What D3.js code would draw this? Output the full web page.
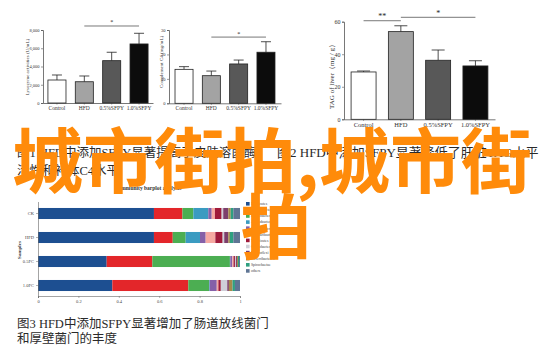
<!DOCTYPE html>
<html><head><meta charset="utf-8">
<script src="https://cdn.jsdelivr.net/npm/d3@7"></script>
<style>body{margin:0;background:#fff}svg{display:block}</style>
</head><body>
<svg id="c" width="550" height="357"></svg>
<script>
// ---------- data ----------
const groups = ["Control", "HFD", "0.5%SFPY", "1.0%SFPY"];
const lysozyme = [2520, 2330, 4640, 6470];
const lysozymeErr = [3070, 2960, 5560, 7640];
const lysozymeTicks = [0, 2000, 4000, 6000, 8000];
const complementC4 = [13.9, 11.3, 16.1, 20.9];
const complementC4Err = [15.0, 13.2, 17.7, 25.2];
const complementTicks = [0, 10, 20, 30];
const liverTAG = [29.1, 53.9, 36.3, 32.8];
const liverTAGErr = [29.7, 57.5, 42.6, 36.0];
const tagTicks = [0, 20, 40, 60];
const barFills = ["#ffffff", "#a3a3a3", "#585858", "#0c0c0c"];

const sig1 = [{from: "HFD", to: "1.0%SFPY", level: 8440, label: "*"}];
const sig2 = [{from: "HFD", to: "1.0%SFPY", level: 27.1, label: "*"}];
const sig3 = [{from: "Control", to: "HFD", level: 60.6, label: "**"},
              {from: "HFD", to: "1.0%SFPY", level: 62.7, label: "*"}];

const samples = ["CK", "HFD", "0.5FC", "1.0FC"];
const phyla = ["Firmicutes", "Bacteroidetes", "Proteobacteria", "Actinobacteria", "Verrucomicrobia",
  "Saccharibacteria", "Tenericutes", "Cyanobacteria", "Chloroflexi", "Deferribacteres", "Spirochaetae", "others"];
const phylaColors = ["#1d4f91", "#e3262a", "#4cae52", "#3a9bc1", "#8560a8", "#f6a9a2",
  "#a01a3b", "#cfcfd8", "#7d3f6c", "#a58a4c", "#2fa080", "#5f7594"];
const abundanceCK = [0.574, 0.141, 0.054, 0.074, 0.017, 0.016, 0.033, 0.008, 0.025, 0.012, 0.013, 0.033];
const abundanceHFD = [0.574, 0.093, 0.064, 0.071, 0.028, 0.048, 0.036, 0.008, 0.020, 0.008, 0.017, 0.033];
const abundance05FC = [0.340, 0.226, 0.384, 0.002, 0.010, 0.006, 0.007, 0.005, 0.005, 0.005, 0.005, 0.005];
const abundance10FC = [0.368, 0.376, 0.103, 0.003, 0.035, 0.008, 0.012, 0.032, 0.008, 0.018, 0.012, 0.025];
const propTicks = [0, 0.2, 0.4, 0.6, 0.8, 1];

const captions = [
  "图1 HFD中添加SFPY显著提高了皮肤溶菌酶",
  "活性和补体C4水平",
  "图2 HFD中添加SFPY显著降低了肝脏TAG水平",
  "图3 HFD中添加SFPY显著增加了肠道放线菌门",
  "和厚壁菌门的丰度"
];
const watermark = ["城市街拍,城市街", "拍"];

// ---------- drawing ----------
const svg = d3.select("#c");
const serif = "'Liberation Serif','DejaVu Serif',serif";

function barChart(o) {
  const g = svg.append("g");
  const x = d3.scaleBand().domain(groups).range(o.xr).paddingInner(o.pi).paddingOuter(o.po);
  const y = d3.scaleLinear().domain([0, o.max]).range(o.yr);
  const yAx = g.append("g").attr("transform", `translate(${o.xr[0]},0)`)
    .call(d3.axisLeft(y).tickValues(o.ticks).tickSize(2).tickPadding(1.5));
  const xAx = g.append("g").attr("transform", `translate(0,${o.yr[0]})`)
    .call(d3.axisBottom(x).tickSize(1.5).tickPadding(1.5).tickSizeOuter(0));
  [yAx, xAx].forEach(a => {
    a.select(".domain").attr("stroke", "#555").attr("stroke-width", 0.8);
    a.selectAll(".tick line").attr("stroke", "#555").attr("stroke-width", 0.6);
    a.selectAll("text").attr("fill", "#333").style("font-family", serif);
  });
  yAx.selectAll("text").style("font-size", o.tickFs + "px");
  xAx.selectAll("text").style("font-size", o.catFs + "px");
  const eb = g.append("g").attr("stroke", "#222").attr("stroke-width", 0.8);
  groups.forEach((k, i) => {
    const cx = x(k) + x.bandwidth() / 2;
    eb.append("line").attr("x1", cx).attr("x2", cx).attr("y1", y(o.vals[i])).attr("y2", y(o.errs[i]));
    eb.append("line").attr("x1", cx - o.cap).attr("x2", cx + o.cap).attr("y1", y(o.errs[i])).attr("y2", y(o.errs[i]));
  });
  g.append("g").selectAll("rect").data(o.vals).join("rect")
    .attr("x", (d, i) => x(groups[i])).attr("width", x.bandwidth())
    .attr("y", d => y(d)).attr("height", d => o.yr[0] - y(d))
    .attr("fill", (d, i) => barFills[i]).attr("stroke", "#222").attr("stroke-width", 0.8);
  o.sig.forEach(s => {
    const x1 = x(s.from) + x.bandwidth() / 2, x2 = x(s.to) + x.bandwidth() / 2;
    g.append("line").attr("x1", x1).attr("x2", x2).attr("y1", y(s.level)).attr("y2", y(s.level))
      .attr("stroke", "#555").attr("stroke-width", 0.8);
    g.append("text").attr("x", (x1 + x2) / 2).attr("y", y(s.level) - 1.5).attr("text-anchor", "middle")
      .style("font-family", serif).style("font-size", o.sigFs + "px").attr("fill", "#222").text(s.label);
  });
  g.append("text").attr("transform", `translate(${o.labX},${o.labY}) rotate(-90)`)
    .attr("text-anchor", "middle").style("font-family", serif).style("font-size", o.labFs + "px")
    .attr("fill", "#333").text(o.label);
}

barChart({vals: lysozyme, errs: lysozymeErr, ticks: lysozymeTicks, max: 8000,
  xr: [43, 153], yr: [103, 30], pi: 0.34, po: 0.18, cap: 5, tickFs: 4.5, catFs: 5.5, sigFs: 6,
  sig: sig1, label: "Lysozyme activities (U/mL)", labX: 29, labY: 67, labFs: 5});
barChart({vals: complementC4, errs: complementC4Err, ticks: complementTicks, max: 30,
  xr: [169, 281], yr: [103.3, 30], pi: 0.34, po: 0.22, cap: 5, tickFs: 4.5, catFs: 5.5, sigFs: 6,
  sig: sig2, label: "Complement C4 (mg/mL)", labX: 163, labY: 62, labFs: 5});
barChart({vals: liverTAG, errs: liverTAGErr, ticks: tagTicks, max: 60,
  xr: [344, 495], yr: [119.3, 21.7], pi: 0.33, po: 0.19, cap: 6.5, tickFs: 6, catFs: 6.5, sigFs: 8,
  sig: sig3, label: "TAG of liver（mg / g）", labX: 334, labY: 75, labFs: 7});

// community barplot
const rows = [abundanceCK, abundanceHFD, abundance05FC, abundance10FC].map((a, i) => {
  const o = {sample: samples[i]};
  phyla.forEach((p, j) => o[p] = a[j]);
  return o;
});
const stack = d3.stack().keys(phyla)(rows);
const xs = d3.scaleLinear().domain([0, 1]).range([38, 240]);
const ys = d3.scaleBand().domain(samples).range([201.5, 297.5]).paddingInner(0.54).paddingOuter(0.27);
const cg = svg.append("g");
cg.selectAll("g.layer").data(stack).join("g").attr("fill", (d, i) => phylaColors[i])
  .selectAll("rect").data(d => d).join("rect")
  .attr("x", d => xs(d[0])).attr("width", d => Math.max(0, xs(d[1]) - xs(d[0])))
  .attr("y", d => ys(d.data.sample)).attr("height", ys.bandwidth());
const bx = cg.append("g").attr("transform", "translate(0,296)")
  .call(d3.axisBottom(xs).tickValues(propTicks).tickFormat(d3.format("")).tickSize(2).tickPadding(2));
const by = cg.append("g").attr("transform", "translate(38,0)")
  .call(d3.axisLeft(ys).tickSize(2).tickPadding(2).tickSizeOuter(0));
[bx, by].forEach(a => {
  a.select(".domain").attr("stroke", "#666").attr("stroke-width", 0.6);
  a.selectAll(".tick line").attr("stroke", "#666").attr("stroke-width", 0.5);
  a.selectAll("text").attr("fill", "#444").style("font-family", serif).style("font-size", "4.5px");
});
cg.append("text").attr("transform", "translate(21,250) rotate(-90)").attr("text-anchor", "middle")
  .style("font-family", serif).style("font-size", "5px").style("font-weight", "bold").attr("fill", "#333").text("Samples");
cg.append("text").attr("x", 148).attr("y", 189.5).attr("text-anchor", "middle")
  .style("font-family", serif).style("font-size", "5.5px").style("font-weight", "bold").attr("fill", "#333")
  .text("Community barplot analysis");
const lg = cg.append("g").selectAll("g").data(phyla).join("g")
  .attr("transform", (d, i) => `translate(246,${202 + i * 6.1})`);
lg.append("rect").attr("width", 3.6).attr("height", 3.6).attr("fill", (d, i) => phylaColors[i]);
lg.append("text").attr("x", 5).attr("y", 3.2).style("font-family", serif).style("font-size", "3.8px")
  .attr("fill", "#444").text(d => d);

// captions
const capFont = "'Liberation Serif','Noto Sans CJK SC',serif";
const capPos = [[17, 156.5], [17, 175], [277, 156.5], [17, 327.5], [17, 343]];
const capSize = [12.5, 12.5, 13, 12.5, 12.5];
captions.forEach((t, i) => {
  svg.append("text").attr("x", capPos[i][0]).attr("y", capPos[i][1])
    .style("font-family", capFont).style("font-size", capSize[i] + "px").attr("fill", "#2a2a2a").text(t);
});

// watermark
const wm = [[272, 187], [276, 253]];
watermark.forEach((t, i) => {
  svg.append("text").attr("x", wm[i][0]).attr("y", wm[i][1]).attr("text-anchor", "middle")
    .style("font-family", "'Noto Sans CJK SC',sans-serif").style("font-weight", "bold")
    .style("font-size", "71px").attr("fill", "#ff8b0a").text(t);
});
</script>
</body></html>
